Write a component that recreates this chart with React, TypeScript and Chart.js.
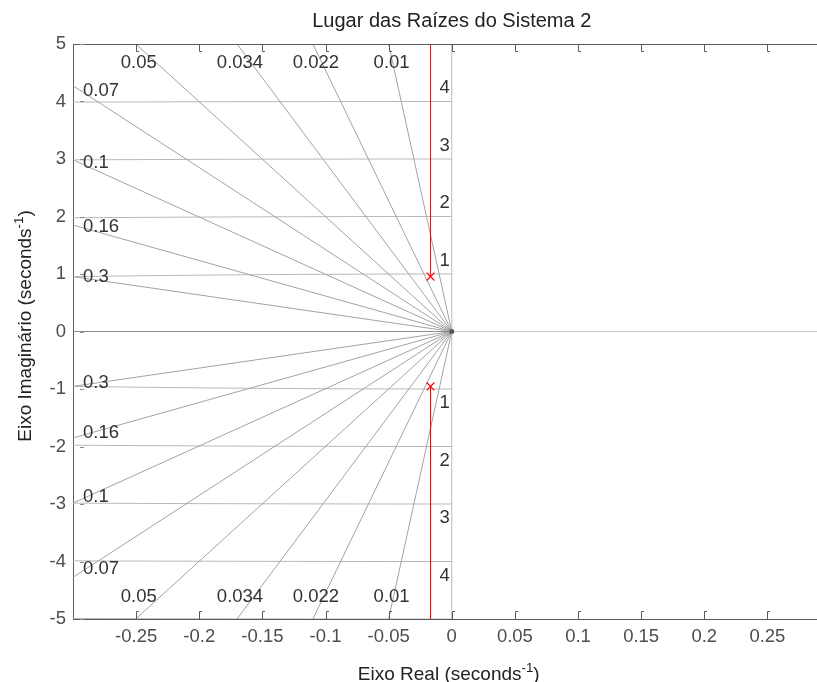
import React, { useEffect, useRef } from 'react';
import { Chart, registerables } from 'chart.js';

Chart.register(...registerables);

// ---------- text ----------
const TITLE = 'Lugar das Raízes do Sistema 2';
const X_LABEL = 'Eixo Real (seconds';
const Y_LABEL = 'Eixo Imaginário (seconds';
const UNIT_SUP = '-1';
const UNIT_TAIL = ')';

// ---------- axes ----------
const xRange = [-0.3, 0.2893];
const yRange = [-5, 5];
const xTickValues = [-0.25, -0.2, -0.15, -0.1, -0.05, 0, 0.05, 0.1, 0.15, 0.2, 0.25];
const yTickValues = [-5, -4, -3, -2, -1, 0, 1, 2, 3, 4, 5];

// ---------- s-grid ----------
const dampingValues = [0.3, 0.16, 0.1, 0.07, 0.05, 0.034, 0.022, 0.01];
const naturalFreqValues = [1, 2, 3, 4, 5];
const naturalFreqLabels = [1, 2, 3, 4];

// ---------- root locus ----------
const poleReal = [-0.0168, -0.0168];
const poleImag = [0.955, -0.955];
const locusUpperX = [-0.0168, -0.0168];
const locusUpperY = [0.955, 8];
const locusLowerX = [-0.0168, -0.0168];
const locusLowerY = [-0.955, -8];

const FONT = "'Liberation Sans', Arial, Helvetica, sans-serif";
const TICK_SIZE = 18.5;
const LABEL_SIZE = 18.5;

function fmtTick(v: number) {
  return String(Number(Number(v).toFixed(3)));
}

function drawSupText(
  ctx: CanvasRenderingContext2D,
  main: string,
  sup: string,
  tail: string,
  cx: number,
  baseline: number,
  size: number
) {
  const supSize = size * 0.7;
  ctx.font = `${size}px ${FONT}`;
  const w1 = ctx.measureText(main).width;
  const w3 = ctx.measureText(tail).width;
  ctx.font = `${supSize}px ${FONT}`;
  const w2 = ctx.measureText(sup).width;
  const total = w1 + w2 + w3;
  let x = cx - total / 2;
  ctx.textAlign = 'left';
  ctx.textBaseline = 'alphabetic';
  ctx.font = `${size}px ${FONT}`;
  ctx.fillText(main, x, baseline);
  x += w1;
  ctx.font = `${supSize}px ${FONT}`;
  ctx.fillText(sup, x, baseline - size * 0.42);
  x += w2;
  ctx.font = `${size}px ${FONT}`;
  ctx.fillText(tail, x, baseline);
}

const overlayPlugin = {
  id: 'overlay',
  afterDraw(chart: any) {
    const ctx: CanvasRenderingContext2D = chart.ctx;
    const { left, right, top, bottom } = chart.chartArea;
    const xs = chart.scales.x;
    const ys = chart.scales.y;
    ctx.save();

    // top border
    ctx.strokeStyle = '#5a5a5a';
    ctx.lineWidth = 1;
    ctx.beginPath();
    ctx.moveTo(left, top + 0.5);
    ctx.lineTo(right, top + 0.5);
    ctx.stroke();

    // x ticks (inward, top and bottom)
    ctx.strokeStyle = '#5a5a5a';
    xTickValues.forEach((v) => {
      const px = Math.round(xs.getPixelForValue(v)) + 0.5;
      ctx.beginPath();
      ctx.moveTo(px, bottom);
      ctx.lineTo(px, bottom - 7.5);
      ctx.lineTo(px + 2.5, bottom - 7.5);
      ctx.stroke();
      ctx.beginPath();
      ctx.moveTo(px, top);
      ctx.lineTo(px, top + 7.5);
      ctx.lineTo(px + 2.5, top + 7.5);
      ctx.stroke();
    });
    // y ticks (small dashes)
    ctx.strokeStyle = '#8a8a8a';
    yTickValues.forEach((v) => {
      const py = Math.round(ys.getPixelForValue(v)) + 0.5;
      ctx.beginPath();
      ctx.moveTo(left + 7, py);
      ctx.lineTo(left + 11, py);
      ctx.stroke();
    });

    // damping labels
    ctx.fillStyle = '#333333';
    ctx.font = `${LABEL_SIZE}px ${FONT}`;
    ctx.textBaseline = 'middle';
    dampingValues.forEach((z) => {
      const s = Math.sqrt(1 - z * z);
      const yAtLeft = (-xRange[0] * s) / z;
      if (yAtLeft < yRange[1]) {
        const xd = xs.getValueForPixel(left + 11);
        const yd = (-xd * s) / z;
        ctx.textAlign = 'left';
        ctx.fillText(String(z), left + 10, ys.getPixelForValue(yd) - 1.5);
        ctx.fillText(String(z), left + 10, ys.getPixelForValue(-yd) - 1.5);
      } else {
        const xTop = (-yRange[1] * z) / s;
        const cx = xs.getPixelForValue(xTop) + 3;
        ctx.textAlign = 'center';
        ctx.fillText(String(z), cx, top + 19);
        ctx.fillText(String(z), cx, bottom - 22);
      }
    });

    // natural frequency labels
    ctx.textAlign = 'right';
    const x0 = xs.getPixelForValue(0) - 2;
    naturalFreqLabels.forEach((w) => {
      ctx.fillText(String(w), x0, ys.getPixelForValue(w) - 13.5);
      ctx.fillText(String(w), x0, ys.getPixelForValue(-w) + 14);
    });

    // title
    ctx.fillStyle = '#222222';
    ctx.font = `20px ${FONT}`;
    ctx.textAlign = 'center';
    ctx.textBaseline = 'alphabetic';
    const midX = xs.getPixelForValue(0);
    ctx.fillText(TITLE, midX, 27);

    // x label
    drawSupText(ctx, X_LABEL, UNIT_SUP, UNIT_TAIL, midX - 3, 680, 19);

    // y label (rotated)
    ctx.save();
    ctx.translate(30.5, 326);
    ctx.rotate(-Math.PI / 2);
    drawSupText(ctx, Y_LABEL, UNIT_SUP, UNIT_TAIL, 0, 0, 19);
    ctx.restore();

    ctx.restore();
  },
};

function lineDs(points: { x: number; y: number }[], color: string, width: number, order: number) {
  return {
    data: points,
    showLine: true,
    borderColor: color,
    backgroundColor: color,
    borderWidth: width,
    pointRadius: 0,
    pointHoverRadius: 0,
    fill: false,
    tension: 0,
    order,
  };
}

export default function App() {
  const ref = useRef<HTMLCanvasElement>(null);

  useEffect(() => {
    const canvas = ref.current;
    if (!canvas) return;
    const datasets: any[] = [];

    // pole markers
    datasets.push({
      data: poleReal.map((x, i) => ({ x, y: poleImag[i] })),
      showLine: false,
      pointStyle: 'crossRot',
      pointRadius: 5.5,
      pointBorderColor: '#ff0000',
      borderColor: '#ff0000',
      pointBorderWidth: 1.2,
      backgroundColor: '#ff0000',
      order: 0,
    });
    // locus branches
    datasets.push(lineDs(locusUpperX.map((x, i) => ({ x, y: locusUpperY[i] })), '#ff0000', 1, 1));
    datasets.push(lineDs(locusLowerX.map((x, i) => ({ x, y: locusLowerY[i] })), '#ff0000', 1, 1));

    // origin blob
    datasets.push({
      data: [{ x: 0, y: 0 }],
      showLine: false,
      pointRadius: 2.5,
      pointBackgroundColor: '#555555',
      pointBorderColor: '#555555',
      pointBorderWidth: 0,
      order: 2,
    });

    // damping rays
    const R = 10;
    dampingValues.forEach((z) => {
      const s = Math.sqrt(1 - z * z);
      datasets.push(lineDs([{ x: 0, y: 0 }, { x: -R * z, y: R * s }], '#a3a3a3', 1, 10));
      datasets.push(lineDs([{ x: 0, y: 0 }, { x: -R * z, y: -R * s }], '#a3a3a3', 1, 10));
    });

    // natural frequency arcs
    naturalFreqValues.forEach((w) => {
      const phiMax = Math.asin(Math.min(1, 0.4 / w));
      const up: { x: number; y: number }[] = [];
      const dn: { x: number; y: number }[] = [];
      const n = 16;
      for (let k = 0; k <= n; k++) {
        const phi = (phiMax * k) / n;
        up.push({ x: -w * Math.sin(phi), y: w * Math.cos(phi) });
        dn.push({ x: -w * Math.sin(phi), y: -w * Math.cos(phi) });
      }
      datasets.push(lineDs(up, '#b8b8b8', 1, 11));
      datasets.push(lineDs(dn, '#b8b8b8', 1, 11));
    });

    // real axis (zeta = 1) and zero lines
    datasets.push(lineDs([{ x: 0, y: 0 }, { x: -1, y: 0 }], '#8c8c8c', 1.2, 9));
    datasets.push(lineDs([{ x: 0, y: 0 }, { x: 1, y: 0 }], '#c8c8c8', 1, 12));
    datasets.push(lineDs([{ x: 0, y: -10 }, { x: 0, y: 10 }], '#bdbdbd', 1, 12));

    const chart = new Chart(canvas, {
      type: 'scatter',
      data: { datasets },
      options: {
        responsive: false,
        animation: false,
        devicePixelRatio: 1,
        events: [],
        layout: { autoPadding: false, padding: { top: 44, left: 0, right: 0, bottom: 0 } },
        plugins: {
          legend: { display: false },
          tooltip: { enabled: false },
          title: { display: false },
        },
        scales: {
          x: {
            type: 'linear',
            min: xRange[0],
            max: xRange[1],
            afterBuildTicks: (s: any) => {
              s.ticks = xTickValues.map((value) => ({ value }));
            },
            afterFit: (s: any) => {
              s.height = 63;
              s.paddingLeft = 0;
              s.paddingRight = 0;
            },
            grid: { display: false, drawTicks: false },
            border: { display: true, color: '#5a5a5a', width: 1 },
            ticks: {
              color: '#4d4d4d',
              font: { family: FONT, size: TICK_SIZE },
              padding: 6.5,
              maxRotation: 0,
              autoSkip: false,
              callback: (v: any) => fmtTick(v),
            },
          },
          y: {
            type: 'linear',
            min: yRange[0],
            max: yRange[1],
            afterBuildTicks: (s: any) => {
              s.ticks = yTickValues.map((value) => ({ value }));
            },
            afterFit: (s: any) => {
              s.width = 73;
              s.paddingTop = 0;
              s.paddingBottom = 0;
            },
            grid: { display: false, drawTicks: false },
            border: { display: true, color: '#5a5a5a', width: 1 },
            ticks: {
              color: '#4d4d4d',
              font: { family: FONT, size: TICK_SIZE },
              padding: 7,
              autoSkip: false,
              callback: (v: any) => fmtTick(v),
            },
          },
        },
      },
      plugins: [overlayPlugin],
    } as any);

    return () => chart.destroy();
  }, []);

  return (
    <div
      style={{
        position: 'absolute',
        left: 0,
        top: 0,
        width: 817,
        height: 682,
        overflow: 'hidden',
        background: '#ffffff',
      }}
    >
      <canvas ref={ref} width={817} height={682} style={{ display: 'block', width: 817, height: 682 }} />
    </div>
  );
}
